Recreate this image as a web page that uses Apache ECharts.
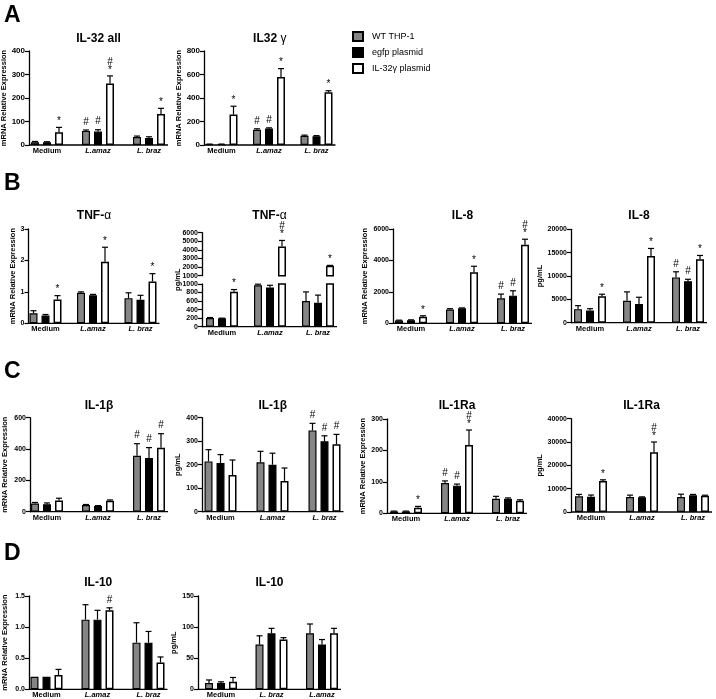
<!DOCTYPE html>
<html>
<head>
<meta charset="utf-8">
<script src="https://cdn.jsdelivr.net/npm/echarts@6/dist/echarts.min.js"></script>
<style>
html, body { margin: 0; padding: 0; background: #fff; }
#chart { width: 716px; height: 699px; }
</style>
</head>
<body>
<div id="chart"></div>
<script>
// ---- data -----------------------------------------------------------
const GROUPS = ['Medium', 'L.amaz', 'L. braz'];
const GROUPS_IL10_PROT = ['Medium', 'L. braz', 'L.amaz'];
const SERIES_NAMES = ['WT THP-1', 'egfp plasmid', 'IL-32γ plasmid'];

// rows = WT, egfp, IL-32γ ; columns = groups
const IL32ALL_TICKS = [0, 100, 200, 300, 400];
const IL32ALL_MEAN = [[12, 60, 34], [12, 57, 30], [54, 262, 132]];
const IL32ALL_ERR = [[3, 4, 4], [2, 8, 5], [21, 32, 24]];
const IL32ALL_SIG = [['', '#', ''], ['', '#', ''], ['*', '*#', '*']];

const IL32G_TICKS = [0, 200, 400, 600, 800];
const IL32G_MEAN = [[6, 130, 78], [6, 140, 75], [260, 578, 450]];
const IL32G_ERR = [[2, 8, 6], [2, 6, 5], [70, 72, 12]];
const IL32G_SIG = [['', '#', ''], ['', '#', ''], ['*', '*', '*']];

const TNF_MRNA_TICKS = [0, 1, 2, 3];
const TNF_MRNA_MEAN = [[0.32, 0.97, 0.80], [0.25, 0.89, 0.75], [0.76, 1.96, 1.33]];
const TNF_MRNA_ERR = [[0.08, 0.03, 0.17], [0.03, 0.03, 0.14], [0.12, 0.46, 0.25]];
const TNF_MRNA_SIG = [['', '', ''], ['', '', ''], ['*', '*', '*']];

const TNF_PROT_TICKS_LOW = [0, 200, 400, 600, 800, 1000];
const TNF_PROT_TICKS_HIGH = [1000, 2000, 3000, 4000, 5000, 6000];
const TNF_PROT_MEAN = [[205, 970, 600], [195, 920, 560], [820, 4400, 2150]];
const TNF_PROT_ERR = [[10, 25, 215], [5, 50, 180], [50, 700, 50]];
const TNF_PROT_SIG = [['', '', ''], ['', '', ''], ['*', '*#', '*']];

const IL8_MRNA_TICKS = [0, 2000, 4000, 6000];
const IL8_MRNA_MEAN = [[180, 880, 1590], [200, 950, 1760], [420, 3250, 5000]];
const IL8_MRNA_ERR = [[20, 50, 270], [20, 30, 310], [60, 380, 350]];
const IL8_MRNA_SIG = [['', '', '#'], ['', '', '#'], ['*', '*', '*#']];

const IL8_PROT_TICKS = [0, 5000, 10000, 15000, 20000];
const IL8_PROT_MEAN = [[2900, 4700, 9700], [2600, 4000, 8900], [5650, 14300, 13600]];
const IL8_PROT_ERR = [[750, 1900, 1200], [400, 1450, 400], [450, 1600, 800]];
const IL8_PROT_SIG = [['', '', '#'], ['', '', '#'], ['*', '*', '*']];

const IL1B_MRNA_TICKS = [0, 200, 400, 600];
const IL1B_MRNA_MEAN = [[52, 42, 357], [48, 36, 343], [72, 70, 408]];
const IL1B_MRNA_ERR = [[7, 4, 77], [8, 3, 66], [14, 5, 90]];
const IL1B_MRNA_SIG = [['', '', '#'], ['', '', '#'], ['', '', '#']];

const IL1B_PROT_TICKS = [0, 100, 200, 300, 400];
const IL1B_PROT_MEAN = [[214, 210, 346], [207, 200, 300], [156, 131, 287]];
const IL1B_PROT_ERR = [[50, 47, 30], [36, 49, 23], [64, 55, 42]];
const IL1B_PROT_SIG = [['', '', '#'], ['', '', '#'], ['', '', '#']];

const IL1RA_MRNA_TICKS = [0, 100, 200, 300];
const IL1RA_MRNA_MEAN = [[6, 96, 46], [6, 88, 46], [18, 217, 40]];
const IL1RA_MRNA_ERR = [[1, 7, 8], [1, 5, 3], [4, 48, 3]];
const IL1RA_MRNA_SIG = [['', '#', ''], ['', '#', ''], ['*', '*#', '']];

const IL1RA_PROT_TICKS = [0, 10000, 20000, 30000, 40000];
const IL1RA_PROT_MEAN = [[6700, 6430, 6430], [6570, 6290, 7140], [13300, 25600, 7000]];
const IL1RA_PROT_ERR = [[850, 800, 1200], [700, 200, 400], [500, 4400, 200]];
const IL1RA_PROT_SIG = [['', '', ''], ['', '', ''], ['*', '*#', '']];

const IL10_MRNA_TICKS = [0, 0.5, 1.0, 1.5];
const IL10_MRNA_MEAN = [[0.20, 1.12, 0.75], [0.20, 1.12, 0.75], [0.23, 1.27, 0.43]];
const IL10_MRNA_ERR = [[0, 0.24, 0.32], [0, 0.15, 0.18], [0.09, 0.04, 0.09]];
const IL10_MRNA_SIG = [['', '', ''], ['', '', ''], ['', '#', '']];

const IL10_PROT_TICKS = [0, 50, 100, 150];
const IL10_PROT_MEAN = [[10, 72, 90], [10, 90, 72], [12, 80, 90]];
const IL10_PROT_ERR = [[5, 14, 15], [2, 8, 8], [7, 3, 8]];
const IL10_PROT_SIG = [['', '', ''], ['', '', ''], ['', '', '']];

const MRNA = 'mRNA Relative Expression';
const PGML = 'pg/mL';

const CHARTS = [
    { key: 'il32All', title: 'IL-32 all', yName: MRNA, groups: GROUPS, ticks: IL32ALL_TICKS, mean: IL32ALL_MEAN, err: IL32ALL_ERR, sig: IL32ALL_SIG },
    { key: 'il32g', title: 'IL32 {g|γ}', yName: MRNA, groups: GROUPS, ticks: IL32G_TICKS, mean: IL32G_MEAN, err: IL32G_ERR, sig: IL32G_SIG },
    { key: 'tnfMrna', title: 'TNF-{g|α}', yName: MRNA, groups: GROUPS, ticks: TNF_MRNA_TICKS, mean: TNF_MRNA_MEAN, err: TNF_MRNA_ERR, sig: TNF_MRNA_SIG },
    { key: 'tnfProt', title: 'TNF-{g|α}', yName: PGML, groups: GROUPS, ticks: TNF_PROT_TICKS_LOW, upperTicks: TNF_PROT_TICKS_HIGH, mean: TNF_PROT_MEAN, err: TNF_PROT_ERR, sig: TNF_PROT_SIG },
    { key: 'il8Mrna', title: 'IL-8', yName: MRNA, groups: GROUPS, ticks: IL8_MRNA_TICKS, mean: IL8_MRNA_MEAN, err: IL8_MRNA_ERR, sig: IL8_MRNA_SIG },
    { key: 'il8Prot', title: 'IL-8', yName: PGML, groups: GROUPS, ticks: IL8_PROT_TICKS, mean: IL8_PROT_MEAN, err: IL8_PROT_ERR, sig: IL8_PROT_SIG },
    { key: 'il1bMrna', title: 'IL-1β', yName: MRNA, groups: GROUPS, ticks: IL1B_MRNA_TICKS, mean: IL1B_MRNA_MEAN, err: IL1B_MRNA_ERR, sig: IL1B_MRNA_SIG },
    { key: 'il1bProt', title: 'IL-1β', yName: PGML, groups: GROUPS, ticks: IL1B_PROT_TICKS, mean: IL1B_PROT_MEAN, err: IL1B_PROT_ERR, sig: IL1B_PROT_SIG },
    { key: 'il1raMrna', title: 'IL-1Ra', yName: MRNA, groups: GROUPS, ticks: IL1RA_MRNA_TICKS, mean: IL1RA_MRNA_MEAN, err: IL1RA_MRNA_ERR, sig: IL1RA_MRNA_SIG },
    { key: 'il1raProt', title: 'IL-1Ra', yName: PGML, groups: GROUPS, ticks: IL1RA_PROT_TICKS, mean: IL1RA_PROT_MEAN, err: IL1RA_PROT_ERR, sig: IL1RA_PROT_SIG },
    { key: 'il10Mrna', title: 'IL-10', yName: MRNA, groups: GROUPS, ticks: IL10_MRNA_TICKS, mean: IL10_MRNA_MEAN, err: IL10_MRNA_ERR, sig: IL10_MRNA_SIG, digits: 1 },
    { key: 'il10Prot', title: 'IL-10', yName: PGML, groups: GROUPS_IL10_PROT, ticks: IL10_PROT_TICKS, mean: IL10_PROT_MEAN, err: IL10_PROT_ERR, sig: IL10_PROT_SIG }
];

// ---- layout (pixels) ------------------------------------------------
// axisX: y axis line, c0: centre of first group, pitch: group spacing
const LAYOUT = {
    il32All:   { axisX: 29,   c0: 47,    pitch: 51,   top: 51,    zero: 145,   titleY: 39,    nameGap: 20, tickFont: 8 },
    il32g:     { axisX: 204,  c0: 221.5, pitch: 47.5, top: 51,    zero: 145,   titleY: 39,    nameGap: 17, tickFont: 8 },
    tnfMrna:   { axisX: 28.5, c0: 45.5,  pitch: 47.5, top: 229,   zero: 323.3, titleY: 216,   nameGap: 10 },
    tnfProt:   { axisX: 202,  c0: 222,   pitch: 48,   top: 284,   zero: 326.7, titleY: 216,   upperTop: 232.7, upperBottom: 275.7, nameX: 178 },
    il8Mrna:   { axisX: 393,  c0: 411,   pitch: 51,   top: 229,   zero: 323.3, titleY: 216,   nameGap: 24 },
    il8Prot:   { axisX: 571,  c0: 590,   pitch: 49,   top: 229.3, zero: 322.7, titleY: 216,   nameGap: 22 },
    il1bMrna:  { axisX: 30,   c0: 47,    pitch: 51,   top: 417.7, zero: 511.7, titleY: 405.5, nameGap: 21 },
    il1bProt:  { axisX: 202,  c0: 220.5, pitch: 52,   top: 417.7, zero: 511.7, titleY: 405.5, nameGap: 12 },
    il1raMrna: { axisX: 387,  c0: 406,   pitch: 51,   top: 419,   zero: 513.3, titleY: 405.5, nameGap: 20 },
    il1raProt: { axisX: 571,  c0: 591,   pitch: 51,   top: 418.7, zero: 512,   titleY: 405.5, nameGap: 22 },
    il10Mrna:  { axisX: 29,   c0: 46.5,  pitch: 51,   top: 596,   zero: 689.3, titleY: 582.5, nameGap: 20 },
    il10Prot:  { axisX: 198,  c0: 221,   pitch: 50.5, top: 596,   zero: 689.3, titleY: 582.5, nameGap: 11 }
};

const PANEL_LETTERS = [['A', 4, 4.5], ['B', 4, 172.5], ['C', 4, 360.5], ['D', 4, 542.5]];

const FONT = '"Liberation Sans", Arial, Helvetica, sans-serif';
const BAR_W = 8;
const BAR_GAP = 0.5;
const BAR_PITCH = BAR_W * (1 + BAR_GAP);
const CAP = 3;
const BAR_STYLES = [
    { color: '#858585', borderColor: '#000', borderWidth: 1.2 },
    { color: '#000', borderColor: '#000', borderWidth: 1.2 },
    { color: '#fff', borderColor: '#000', borderWidth: 1.5 }
];

function markText(t, x, y) {
    return {
        type: 'text', x: x, y: y,
        style: { text: t, fill: '#000', fontSize: 10, fontFamily: FONT, align: 'center', verticalAlign: 'bottom' }
    };
}

function errorRenderer(marks, lo, hi) {
    return function (params, api) {
        const g = api.value(0), s = api.value(1), v = api.value(2), e = api.value(3);
        const topVal = v + e;
        if (!(topVal > lo && topVal <= hi)) return;
        const base = api.coord([g, v]);
        const x = base[0] + (s - 1) * BAR_PITCH;
        const yTop = api.coord([g, topVal])[1];
        const children = [];
        if (e > 0) {
            children.push({ type: 'line', shape: { x1: x, y1: base[1], x2: x, y2: yTop }, style: { stroke: '#000', lineWidth: 1.2 } });
            children.push({ type: 'line', shape: { x1: x - CAP, y1: yTop, x2: x + CAP, y2: yTop }, style: { stroke: '#000', lineWidth: 1.2 } });
        }
        const m = marks[params.dataIndex];
        let y = yTop - 1;
        if (m.indexOf('*') >= 0) { children.push(markText('*', x, y)); y -= 8; } else { y -= 2; }
        if (m.indexOf('#') >= 0) children.push(markText('#', x, y));
        return { type: 'group', children: children };
    };
}

const grids = [], xAxes = [], yAxes = [], series = [], titles = [], graphics = [];

function addGrid(chart, lay, ticks, top, bottom, showX, showName) {
    const gi = grids.length;
    const left = lay.c0 - lay.pitch / 2;
    const tickFont = lay.tickFont || 7;
    grids.push({ left: left, top: top, width: lay.pitch * 3, height: bottom - top, outerBoundsMode: 'none', containLabel: false });
    xAxes.push({
        type: 'category', gridIndex: gi, data: chart.groups, show: showX,
        axisLine: { show: false }, axisTick: { show: false }, splitLine: { show: false },
        axisLabel: {
            interval: 0, margin: 2, color: '#000', fontFamily: FONT, fontSize: 7.5, fontWeight: 'bold',
            formatter: v => v === 'Medium' ? '{n|' + v + '}' : '{i|' + v + '}',
            rich: {
                n: { fontFamily: FONT, fontSize: 7.5, fontWeight: 'bold', color: '#000' },
                i: { fontFamily: FONT, fontSize: 7.5, fontWeight: 'bold', fontStyle: 'italic', color: '#000' }
            }
        }
    });
    yAxes.push({
        type: 'value', gridIndex: gi,
        min: ticks[0], max: ticks[ticks.length - 1], interval: ticks[1] - ticks[0],
        offset: left - lay.axisX,
        name: showName ? chart.yName : '', nameLocation: 'middle', nameGap: lay.nameGap || 15,
        nameTextStyle: { color: '#000', fontFamily: FONT, fontSize: 7.5, fontWeight: 'bold' },
        axisLine: { show: true, onZero: false, lineStyle: { color: '#000', width: 1.3 } },
        axisTick: { show: true, length: 4, lineStyle: { color: '#000', width: 1.2 } },
        splitLine: { show: false },
        axisLabel: {
            margin: 4, color: '#000', fontFamily: FONT, fontSize: tickFont, fontWeight: 'bold',
            formatter: v => chart.digits ? v.toFixed(chart.digits) : String(v)
        }
    });
    chart.mean.forEach((vals, s) => series.push({
        type: 'bar', name: SERIES_NAMES[s], xAxisIndex: gi, yAxisIndex: gi,
        data: vals, barWidth: BAR_W, barGap: (BAR_GAP * 100) + '%', clip: true, silent: true,
        itemStyle: BAR_STYLES[s], animation: false
    }));
    const items = [], marks = [];
    chart.mean.forEach((vals, s) => vals.forEach((v, g) => {
        items.push([g, s, v, chart.err[s][g]]);
        marks.push(chart.sig[s][g]);
    }));
    series.push({
        type: 'custom', xAxisIndex: gi, yAxisIndex: gi, data: items, z: 5, silent: true, animation: false,
        renderItem: errorRenderer(marks, ticks[0], ticks[ticks.length - 1])
    });
}

CHARTS.forEach(chart => {
    const lay = LAYOUT[chart.key];
    const end = Math.min(lay.c0 + 2 * lay.pitch + 19, 715);
    if (chart.upperTicks) {
        addGrid(chart, lay, chart.upperTicks, lay.upperTop, lay.upperBottom, false, false);
        addGrid(chart, lay, chart.ticks, lay.top, lay.zero, true, false);
        graphics.push({
            type: 'text', x: lay.nameX, y: (lay.upperTop + lay.zero) / 2, rotation: Math.PI / 2,
            style: { text: chart.yName, fill: '#000', font: 'bold 7.5px ' + FONT, align: 'center', verticalAlign: 'middle' }
        });
    } else {
        addGrid(chart, lay, chart.ticks, lay.top, lay.zero, true, true);
    }
    // x axis base line, from the y axis to the end of the last group
    graphics.push({
        type: 'line', shape: { x1: lay.axisX, y1: lay.zero, x2: end, y2: lay.zero },
        style: { stroke: '#000', lineWidth: 1.3 }, z: 10
    });
    titles.push({
        text: chart.title, left: (lay.axisX + end) / 2, top: lay.titleY - 7, textAlign: 'center', padding: 0,
        textStyle: {
            fontFamily: FONT, fontSize: 12, fontWeight: 'bold', color: '#000', lineHeight: 14,
            rich: { g: { fontFamily: FONT, fontSize: 12, fontWeight: 'normal', color: '#000', lineHeight: 14 } }
        }
    });
});

PANEL_LETTERS.forEach(([t, x, y]) => graphics.push({
    type: 'text', left: x, top: y, style: { text: t, fill: '#000', font: 'bold 23px ' + FONT }
}));

const chartEl = echarts.init(document.getElementById('chart'), null, { renderer: 'canvas' });
chartEl.setOption({
    backgroundColor: '#fff',
    animation: false,
    title: titles,
    legend: {
        data: SERIES_NAMES, orient: 'vertical', left: 352, top: 31, padding: 0,
        itemWidth: 10, itemHeight: 9, itemGap: 5, icon: 'rect', selectedMode: false,
        textStyle: { fontFamily: FONT, fontSize: 9, color: '#000', padding: [0, 0, 0, 4] }
    },
    grid: grids,
    xAxis: xAxes,
    yAxis: yAxes,
    series: series,
    graphic: graphics
});
</script>
</body>
</html>
